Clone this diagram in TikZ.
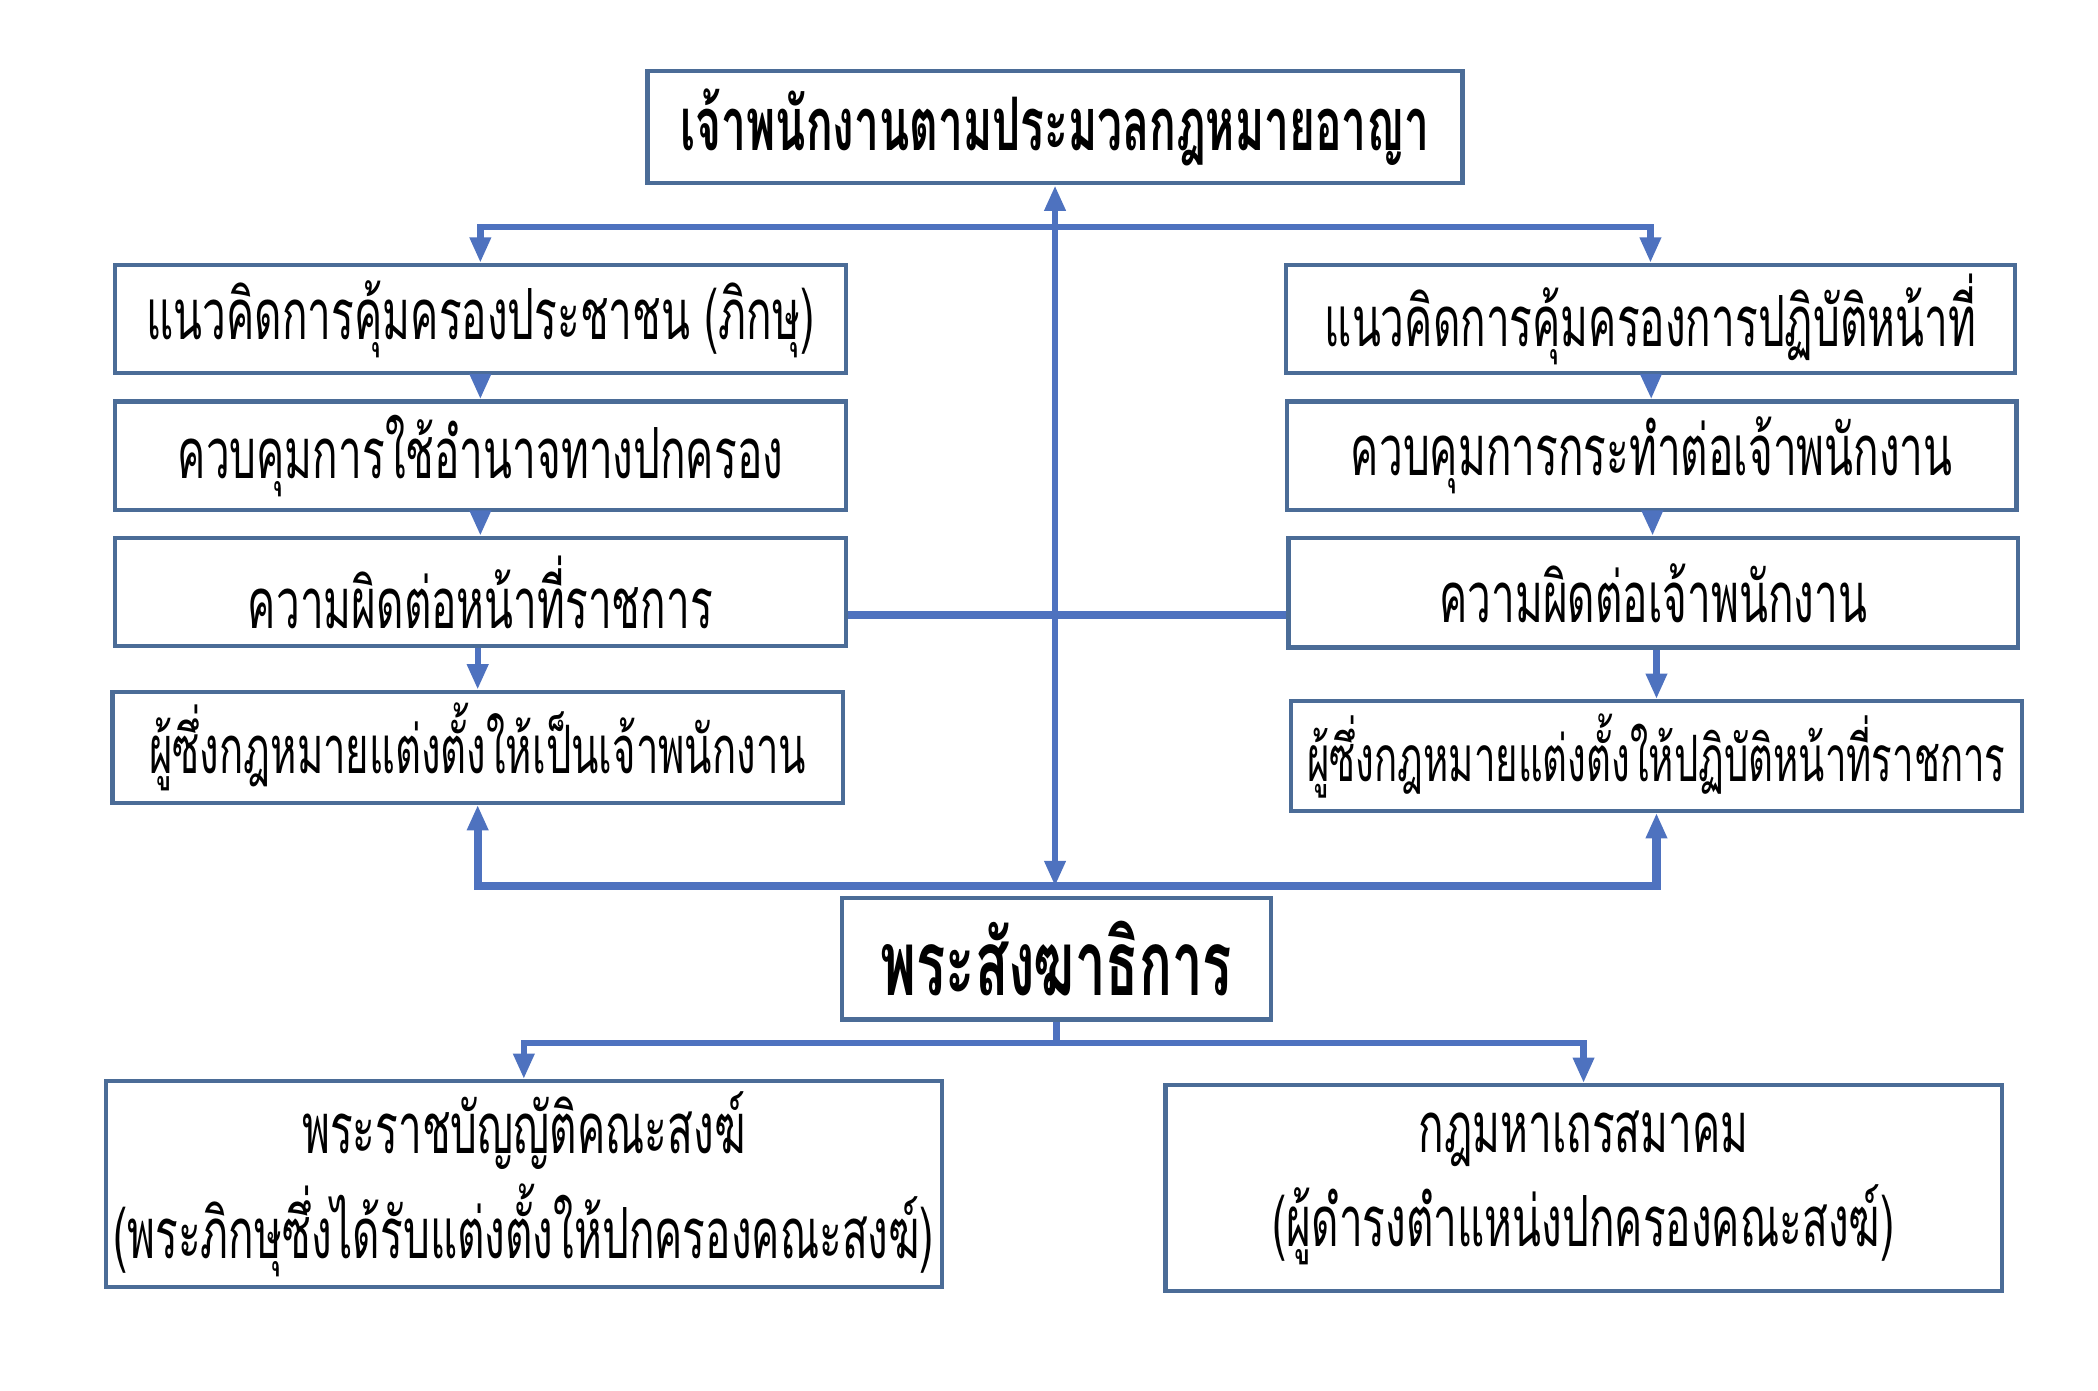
\documentclass[tikz,border=0pt]{standalone}
\usepackage{fontspec}
\setmainfont{Loma}[Script=Thai,FakeStretch=0.6]
\usetikzlibrary{arrows.meta,calc}
\definecolor{boxline}{HTML}{4B6C97}
\definecolor{linkblue}{HTML}{4E72BF}
\tikzset{box/.style={draw=boxline,line width=0.9pt,fill=white,inner sep=0pt,minimum width=5.46cm,minimum height=0.81cm,font=\fontsize{15}{18}\selectfont},
  link/.style={draw=linkblue,line width=1.35pt},
  bus/.style={draw=linkblue,line width=1.75pt}}

\begin{document}
\begin{tikzpicture}[>={Triangle[length=0.19cm,width=0.15cm]}]
    \useasboundingbox(0,0)rectangle(15.68,-10.39);
    % top and middle
    \node[box,minimum width=6.09cm,minimum height=0.84cm,font=\fontsize{15.7}{18}\selectfont\bfseries](top)at(7.885,-0.95){เจ้าพนักงานตามประมวลกฎหมายอาญา};
    \node[box,minimum width=3.21cm,minimum height=0.91cm,font=\fontsize{19.3}{22}\selectfont\bfseries](mid)at(7.895,-7.165){พระสังฆาธิการ};
    % left column
    \node[box](L1)at(3.59,-2.385){แนวคิดการคุ้มครองประชาชน (ภิกษุ)};
    \node[box](L2)at(3.59,-3.405){ควบคุมการใช้อำนาจทางปกครอง};
    \node[box](L3)at(3.59,-4.425){ความผิดต่อหน้าที่ราชการ};
    \node[box,minimum height=0.83cm,font=\fontsize{14.2}{18}\selectfont](L4)at(3.57,-5.585){ผู้ซึ่งกฎหมายแต่งตั้งให้เป็นเจ้าพนักงาน};
    % right column
    \node[box,minimum width=5.45cm](R1)at(12.335,-2.385){แนวคิดการคุ้มครองการปฏิบัติหน้าที่};
    \node[box,minimum width=5.45cm](R2)at(12.345,-3.405){ควบคุมการกระทำต่อเจ้าพนักงาน};
    \node[box,minimum width=5.45cm,minimum height=0.82cm](R3)at(12.355,-4.43){ความผิดต่อเจ้าพนักงาน};
    \node[box,minimum height=0.82cm,font=\fontsize{13.6}{18}\selectfont](R4)at(12.38,-5.65){ผู้ซึ่งกฎหมายแต่งตั้งให้ปฏิบัติหน้าที่ราชการ};
    % bottom
    \node[box,minimum width=6.25cm,minimum height=1.54cm,align=center](B1)at(3.915,-8.85){พระราชบัญญัติคณะสงฆ์\\[2pt](พระภิกษุซึ่งได้รับแต่งตั้งให้ปกครองคณะสงฆ์)};
    \node[box,minimum width=6.25cm,minimum height=1.54cm,align=center](B2)at(11.835,-8.88){กฎมหาเถรสมาคม\\[2pt](ผู้ดำรงตำแหน่งปกครองคณะสงฆ์)};
    \coordinate(tbus)at($(top.south)+(0,-0.31)$);
    \coordinate(bbus)at($(mid.north)+(0,0.07)$);
    % connectors
    \draw[link,->](tbus)-|(L1.north);
    \draw[link,->](tbus)-|(R1.north);
    \draw[link,<->](top.south)--(top.south|-bbus);
    \draw[link,->](L1)--(L2);\draw[link,->](L2)--(L3);
    \draw[link,->](L3.south-|L4.north)--(L4.north);
    \draw[link,->](R1)--(R2);\draw[link,->](R2)--(R3);
    \draw[link,->](R3.south-|R4.north)--(R4.north);
    \draw[bus]([yshift=-0.17cm]L3.east)--([yshift=-0.17cm]L3.east-|R3.west);
    \draw[bus,<->](L4.south)|-(bbus)-|(R4.south);
    \draw[link,->](mid.south)--++(0,-0.16)-|(B1.north);
    \draw[link,->](mid.south)--++(0,-0.16)-|(B2.north);
\end{tikzpicture}
\end{document}
